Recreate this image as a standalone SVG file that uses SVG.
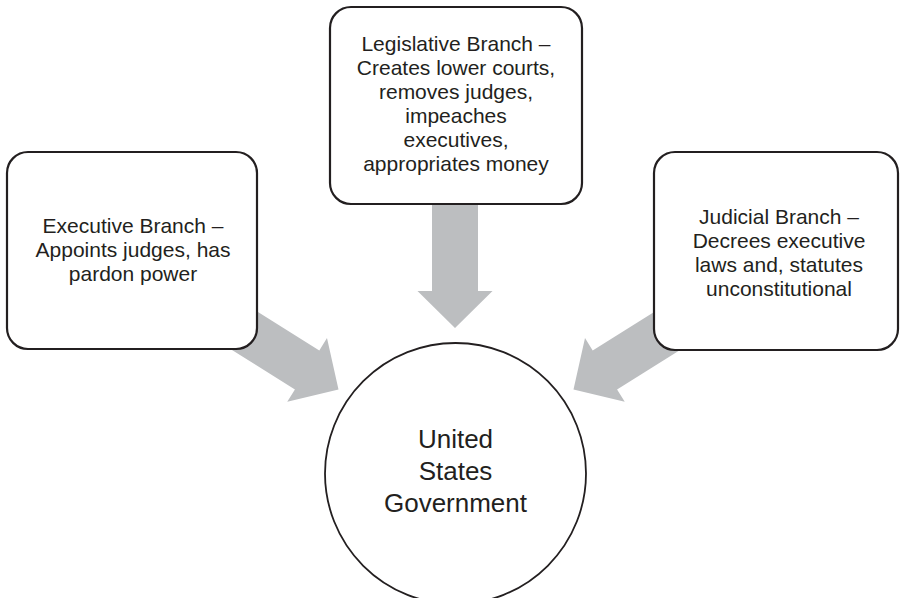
<svg xmlns="http://www.w3.org/2000/svg" width="900" height="598" viewBox="0 0 900 598">
<style>
.box{fill:#fff;stroke:#231f20;stroke-width:2.2}
.circ{fill:#fff;stroke:#231f20;stroke-width:1.8}
.arrow{fill:#bcbec0;stroke:none}
text{font-family:"Liberation Sans",Arial,Helvetica,sans-serif;fill:#231f20;text-anchor:middle}
.t{font-size:21px}
.tc{font-size:26px}
</style>
<defs>
<path id="bigArrow" d="M0,0 L-37,-37.5 L-37,-23 L-140,-23 L-140,23 L-37,23 L-37,37.5 Z"/>
</defs>
<rect width="900" height="598" fill="#fff"/>
<g id="connectors">
<use href="#bigArrow" class="arrow" transform="translate(455,328) rotate(90)"/>
<use href="#bigArrow" class="arrow" transform="translate(338.5,389.5) rotate(32)"/>
<use href="#bigArrow" class="arrow" transform="translate(573.5,389.5) rotate(148)"/>
</g>
<g id="executive">
<rect class="box" x="7" y="152" width="250" height="197" rx="21"/>
<text class="t" x="133" y="233">Executive Branch –</text>
<text class="t" x="133" y="257">Appoints judges, has</text>
<text class="t" x="133" y="281">pardon power</text>
</g>
<g id="legislative">
<rect class="box" x="330" y="7" width="252" height="197" rx="21"/>
<text class="t" x="456" y="51">Legislative Branch –</text>
<text class="t" x="456" y="75">Creates lower courts,</text>
<text class="t" x="456" y="99">removes judges,</text>
<text class="t" x="456" y="123">impeaches</text>
<text class="t" x="456" y="147">executives,</text>
<text class="t" x="456" y="171">appropriates money</text>
</g>
<g id="judicial">
<rect class="box" x="654" y="152" width="244" height="198" rx="21"/>
<text class="t" x="779" y="224">Judicial Branch –</text>
<text class="t" x="779" y="248">Decrees executive</text>
<text class="t" x="779" y="272">laws and, statutes</text>
<text class="t" x="779" y="296">unconstitutional</text>
</g>
<g id="government">
<circle class="circ" cx="455.5" cy="473.5" r="130.5"/>
<text class="tc" x="455.5" y="448">United</text>
<text class="tc" x="455.5" y="480">States</text>
<text class="tc" x="455.5" y="512">Government</text>
</g>
</svg>
